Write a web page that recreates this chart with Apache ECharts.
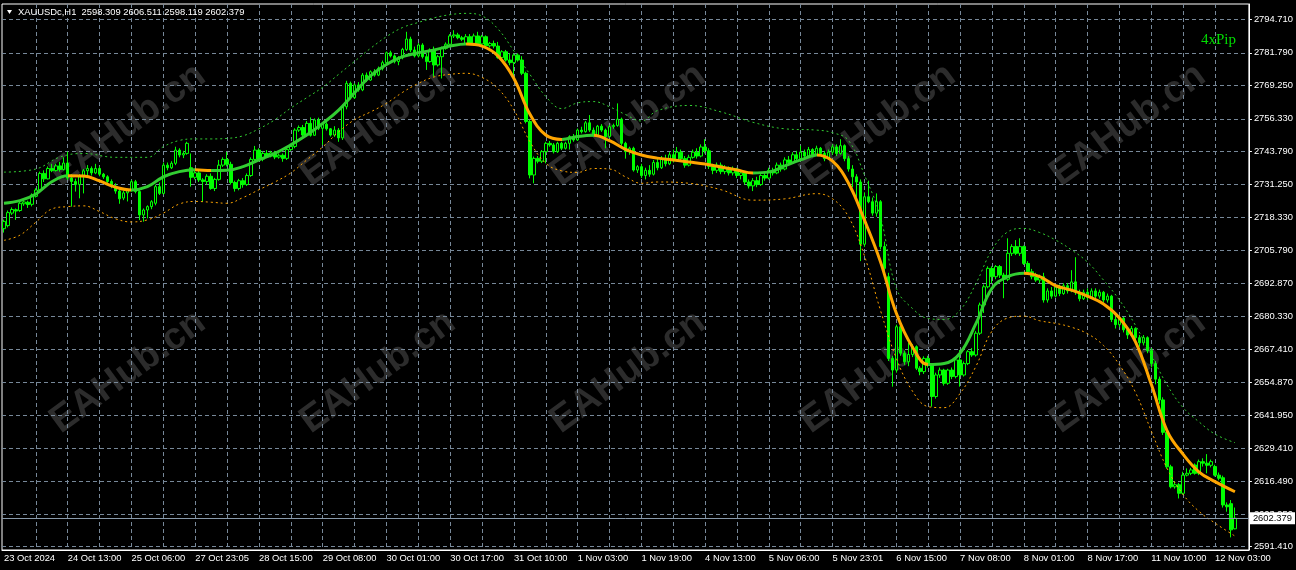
<!DOCTYPE html>
<html>
<head>
<meta charset="utf-8">
<title>XAUUSDc,H1</title>
<script src="https://cdn.jsdelivr.net/npm/echarts@6.0.0/dist/echarts.min.js"></script>
<style>
  html, body { margin: 0; padding: 0; background: #000; }
  #chart { width: 1296px; height: 570px; }
</style>
</head>
<body>
<div id="chart"></div>
<script>
const symbol = 'XAUUSDc,H1'

// every 16th bar gets a time label
const timeLabels = ['23 Oct 2024', '24 Oct 13:00', '25 Oct 06:00', '27 Oct 23:05', '28 Oct 15:00',
  '29 Oct 08:00', '30 Oct 01:00', '30 Oct 17:00', '31 Oct 10:00', '1 Nov 03:00', '1 Nov 19:00',
  '4 Nov 13:00', '5 Nov 06:00', '5 Nov 23:01', '6 Nov 15:00', '7 Nov 08:00', '8 Nov 01:00',
  '8 Nov 17:00', '11 Nov 10:00', '12 Nov 03:00']

const priceTicks = [2591.41, 2603.95, 2616.49, 2629.41, 2641.95, 2654.87, 2667.41, 2680.33, 2692.87,
  2705.79, 2718.33, 2731.25, 2743.79, 2756.33, 2769.25, 2781.79, 2794.71]

// [open, close, low, high]
const candles = [
  [2714.0,2716.8,2712.5,2717.5],[2715.2,2720.2,2714.5,2721.0],[2720.0,2721.4,2719.3,2722.2],[2721.3,2720.8,2717.4,2721.8],
  [2721.0,2723.8,2720.5,2724.6],[2723.6,2724.3,2722.8,2725.0],[2724.2,2723.3,2722.0,2724.8],[2723.4,2727.0,2722.6,2727.6],
  [2726.5,2728.9,2726.0,2729.6],[2728.9,2735.3,2728.5,2736.0],[2735.3,2733.2,2732.0,2736.5],[2733.2,2737.2,2733.0,2738.0],
  [2737.2,2736.4,2735.8,2739.0],[2736.4,2738.2,2736.0,2739.0],[2738.2,2736.8,2736.0,2739.8],[2736.8,2739.3,2736.5,2741.5],
  [2739.3,2733.5,2732.8,2743.7],[2733.5,2732.2,2722.5,2735.0],[2732.2,2731.0,2728.3,2733.3],[2731.0,2734.0,2725.7,2735.0],
  [2734.0,2736.3,2727.6,2737.0],[2736.3,2737.2,2734.5,2738.5],[2737.2,2735.5,2734.5,2738.0],[2735.5,2737.2,2735.0,2739.0],
  [2737.2,2735.0,2734.2,2738.0],[2735.0,2734.0,2733.2,2735.5],[2734.0,2732.2,2731.5,2734.6],[2732.2,2730.5,2729.6,2733.0],
  [2730.5,2728.5,2727.5,2731.5],[2728.5,2725.5,2723.6,2729.5],
  [2725.8,2727.8,2725.0,2728.6],[2727.8,2728.8,2724.5,2729.3],[2728.8,2732.1,2728.3,2732.8],[2732.1,2728.3,2727.6,2732.8],
  [2728.3,2719.3,2717.3,2728.8],[2719.3,2721.2,2716.7,2721.8],[2721.2,2722.5,2718.0,2723.0],[2722.5,2724.4,2721.5,2725.0],
  [2723.8,2730.2,2723.0,2731.0],[2730.2,2727.6,2727.0,2731.8],[2727.6,2738.5,2727.2,2739.5],[2738.5,2737.5,2736.5,2739.5],
  [2737.5,2739.2,2737.0,2740.0],[2739.2,2744.3,2738.5,2745.6],[2744.3,2742.4,2741.5,2745.0],[2742.4,2743.0,2741.2,2744.0],
  [2743.0,2746.9,2742.5,2747.5],[2737.5,2733.8,2730.2,2743.0],[2733.8,2735.5,2733.0,2736.5],[2735.5,2732.8,2732.0,2736.5],
  [2732.8,2732.2,2724.4,2733.5],[2732.2,2734.2,2731.0,2735.0],[2734.2,2729.5,2729.0,2735.3],[2729.5,2733.0,2728.5,2733.6],
  [2733.0,2738.5,2732.5,2740.5],[2738.5,2740.7,2737.8,2741.5],[2740.7,2738.8,2738.0,2743.6],[2738.8,2731.8,2731.0,2739.8],
  [2731.8,2729.5,2728.3,2732.5],[2729.5,2732.5,2728.8,2733.2],[2732.5,2731.0,2729.8,2733.5],[2731.0,2734.5,2730.5,2735.3],
  [2734.5,2740.7,2734.0,2741.5],[2740.7,2744.3,2740.0,2745.9],[2744.3,2740.8,2740.0,2745.0],[2740.8,2743.0,2740.0,2743.8],
  [2743.0,2742.0,2741.3,2744.3],[2742.0,2743.2,2741.5,2744.0],[2743.2,2741.6,2740.8,2744.0],[2741.6,2742.3,2741.0,2743.0],
  [2742.3,2741.1,2739.8,2743.0],[2741.1,2744.5,2740.5,2745.0],[2744.5,2745.7,2744.0,2746.5],[2745.7,2752.0,2745.0,2752.7],
  [2752.0,2753.0,2751.3,2753.8],[2753.0,2750.1,2749.0,2754.0],[2750.1,2754.6,2749.5,2755.5],[2754.6,2750.0,2749.5,2756.9],
  [2750.0,2755.9,2749.8,2756.5],[2755.9,2752.7,2752.0,2756.8],[2752.7,2754.3,2746.3,2755.0],[2754.3,2752.5,2751.8,2755.0],
  [2752.5,2750.1,2749.5,2752.8],[2750.1,2752.0,2749.4,2753.5],[2752.0,2749.0,2747.5,2752.8],[2749.0,2761.0,2748.2,2761.8],
  [2761.0,2770.0,2760.0,2771.0],[2770.0,2764.5,2763.8,2770.7],[2764.5,2769.4,2764.0,2770.0],[2769.4,2767.5,2766.8,2770.5],
  [2767.5,2773.2,2767.0,2774.0],[2773.2,2771.3,2770.5,2774.2],[2771.3,2774.5,2771.0,2775.0],[2774.5,2773.2,2772.6,2775.5],
  [2773.2,2775.8,2772.8,2776.5],[2775.8,2778.0,2775.0,2778.8],[2778.0,2781.8,2777.2,2782.3],[2781.8,2780.6,2780.0,2782.6],
  [2780.6,2778.4,2777.7,2781.2],[2778.4,2779.9,2777.0,2780.5],[2779.9,2783.1,2779.3,2783.7],[2783.1,2787.1,2782.5,2789.9],
  [2787.1,2782.9,2782.0,2788.0],[2782.9,2780.6,2780.0,2784.2],[2780.6,2784.8,2780.0,2785.5],[2784.8,2780.3,2779.6,2785.5],
  [2780.3,2778.4,2775.2,2781.6],[2778.4,2782.9,2778.0,2783.5],[2782.9,2777.1,2772.6,2784.2],[2777.1,2780.3,2776.5,2781.0],
  [2780.3,2783.5,2771.9,2784.2],[2783.5,2785.1,2783.0,2785.8],[2785.1,2788.3,2784.5,2789.0],[2788.3,2788.7,2787.5,2790.5],
  [2788.7,2787.6,2787.0,2789.5],[2787.6,2787.0,2786.3,2788.3],[2785.4,2788.0,2785.0,2789.0],[2788.0,2785.4,2784.8,2789.0],
  [2785.4,2788.3,2784.5,2789.2],[2788.3,2785.2,2784.5,2789.9],[2785.2,2788.0,2784.5,2788.7],[2788.0,2784.5,2783.8,2788.5],
  [2784.5,2785.4,2783.8,2786.0],[2785.4,2784.4,2783.5,2786.5],[2784.4,2780.0,2779.5,2786.0],[2780.0,2782.2,2779.3,2782.8],
  [2782.2,2779.0,2778.4,2782.9],[2779.0,2778.0,2777.0,2781.6],[2778.0,2780.9,2772.0,2781.5],[2780.9,2779.0,2778.4,2781.6],
  [2779.0,2773.9,2773.2,2780.5],[2773.9,2755.3,2754.6,2774.5],[2755.3,2734.7,2733.4,2756.0],[2734.7,2741.1,2731.5,2741.8],
  [2741.1,2740.0,2739.2,2742.0],[2740.0,2743.7,2739.3,2744.3],[2743.7,2746.9,2739.2,2747.5],[2746.9,2746.3,2745.6,2747.8],
  [2746.3,2743.7,2743.0,2747.0],[2743.7,2746.9,2743.2,2747.5],[2746.9,2745.0,2744.3,2747.5],[2745.0,2746.9,2744.5,2747.5],
  [2746.9,2749.5,2744.5,2750.0],[2749.5,2748.2,2747.5,2750.5],[2748.2,2752.0,2747.8,2752.6],[2752.0,2751.4,2750.7,2753.3],
  [2751.4,2754.8,2751.0,2755.5],[2754.8,2752.0,2751.3,2757.8],[2752.0,2750.1,2749.5,2753.0],[2750.1,2753.5,2749.6,2754.0],
  [2753.5,2752.0,2751.3,2754.3],[2752.0,2749.5,2745.0,2752.6],[2749.5,2753.3,2749.0,2754.0],[2753.3,2753.8,2752.5,2754.5],
  [2753.8,2756.2,2753.3,2762.3],[2756.2,2746.9,2746.0,2756.8],[2746.9,2743.7,2741.0,2747.5],[2743.7,2745.0,2742.5,2745.6],
  [2745.0,2736.6,2736.0,2745.6],[2736.6,2737.9,2735.5,2738.5],
  [2737.9,2734.5,2733.5,2739.0],[2734.5,2736.5,2733.0,2737.5],[2736.5,2735.0,2734.0,2738.5],[2735.0,2739.5,2734.5,2740.5],
  [2739.5,2737.5,2736.5,2741.0],[2737.5,2741.0,2737.0,2742.0],[2741.0,2739.0,2738.0,2742.5],[2739.0,2742.5,2738.5,2743.5],
  [2742.5,2740.5,2739.5,2744.5],[2740.5,2743.5,2740.0,2745.5],[2743.5,2741.0,2740.0,2744.5],[2741.0,2738.5,2737.5,2742.0],
  [2738.5,2741.5,2738.0,2742.5],[2741.5,2743.5,2741.0,2744.5],[2743.5,2742.0,2741.0,2745.0],[2742.0,2745.5,2741.5,2746.5],
  [2745.5,2744.0,2743.0,2748.5],[2744.0,2738.0,2737.0,2745.0],[2738.0,2736.5,2735.0,2739.0],[2736.5,2738.5,2735.5,2739.5],
  [2738.5,2736.0,2735.0,2739.5],[2736.0,2737.5,2735.0,2738.5],[2737.5,2735.5,2734.5,2738.0],[2735.5,2737.0,2734.5,2738.0],
  [2737.0,2734.5,2733.5,2737.5],[2734.5,2735.5,2733.0,2736.5],[2735.5,2732.0,2731.0,2736.0],[2732.0,2730.5,2729.5,2733.0],
  [2730.5,2732.5,2728.5,2733.5],[2732.5,2731.0,2730.0,2734.0],[2731.0,2734.5,2730.5,2735.0],[2734.5,2733.5,2732.5,2736.0],
  [2733.5,2736.5,2733.0,2737.5],[2736.5,2735.5,2734.5,2737.5],[2735.5,2738.5,2735.0,2739.5],[2738.5,2737.0,2736.0,2739.5],
  [2737.0,2740.5,2736.5,2741.5],[2740.5,2739.5,2738.5,2742.0],[2739.5,2742.5,2739.0,2743.5],[2742.5,2741.0,2740.0,2744.0],
  [2741.0,2743.5,2740.5,2746.0],[2743.5,2742.0,2741.0,2744.5],[2742.0,2744.5,2741.5,2745.5],[2744.5,2742.5,2741.5,2745.0],
  [2742.5,2745.0,2742.0,2746.0],[2745.0,2743.0,2742.0,2745.5],[2743.0,2741.0,2740.0,2744.0],[2741.0,2743.5,2740.5,2744.5],
  [2743.5,2745.5,2742.5,2746.5],[2745.5,2743.0,2742.0,2746.5],[2743.0,2746.0,2742.5,2748.5],[2746.0,2741.0,2740.0,2746.5],
  [2741.0,2737.0,2736.0,2742.0],[2737.0,2734.0,2730.0,2738.5],[2734.0,2732.0,2726.0,2735.0],
  [2732.0,2708.0,2701.5,2733.0],[2708.0,2726.3,2707.0,2728.0],[2726.3,2724.4,2723.8,2732.5],[2724.4,2720.0,2719.0,2726.0],
  [2720.0,2724.4,2718.6,2727.6],[2724.4,2707.1,2706.0,2725.0],[2707.1,2698.7,2697.0,2709.0],[2695.5,2664.0,2663.0,2697.0],
  [2664.0,2659.5,2653.1,2665.0],[2659.5,2676.2,2658.5,2677.0],[2676.2,2666.0,2665.0,2678.2],[2666.0,2662.7,2661.5,2667.0],
  [2662.7,2665.5,2661.0,2670.0],[2665.5,2668.5,2664.5,2669.5],[2668.5,2660.2,2659.5,2669.0],[2660.2,2658.9,2657.5,2661.0],
  [2658.9,2664.0,2658.0,2664.8],[2664.0,2661.5,2660.5,2665.0],[2661.5,2649.3,2645.4,2662.0],[2649.3,2657.6,2648.5,2658.5],
  [2657.6,2659.5,2656.5,2660.5],[2659.5,2654.4,2653.5,2660.0],[2654.4,2659.5,2653.8,2660.0],[2659.5,2657.0,2656.0,2660.5],
  [2657.0,2663.4,2656.3,2664.0],[2663.4,2657.6,2653.1,2667.2],[2657.6,2662.0,2657.0,2662.8],[2662.0,2666.6,2661.4,2667.2],
  [2666.6,2665.3,2664.6,2668.0],[2665.3,2673.7,2664.7,2674.5],[2673.7,2684.6,2673.0,2685.5],[2684.6,2691.6,2681.5,2692.5],
  [2691.6,2698.7,2691.0,2699.5],[2698.7,2695.5,2693.0,2699.5],[2695.5,2699.4,2694.5,2700.0],[2699.4,2696.1,2695.0,2700.0],
  [2696.1,2694.5,2687.2,2697.0],[2694.5,2704.5,2693.8,2710.3],[2704.5,2707.1,2703.5,2708.0],[2707.1,2704.5,2703.8,2709.6],
  [2704.5,2707.1,2703.5,2710.3],[2707.1,2700.6,2700.0,2707.5],[2700.6,2697.4,2696.8,2701.5],[2697.4,2695.5,2694.5,2698.5],
  [2695.5,2694.2,2693.5,2697.0],[2694.2,2695.5,2693.0,2696.3],[2695.5,2686.5,2685.5,2697.0],
  [2686.5,2690.0,2685.5,2691.0],[2690.0,2688.0,2687.0,2691.5],[2688.0,2691.5,2687.5,2692.5],[2691.5,2689.0,2688.0,2692.5],
  [2689.0,2692.0,2688.5,2693.0],[2692.0,2690.0,2689.0,2693.0],[2690.0,2693.5,2689.5,2698.0],[2693.5,2689.5,2688.5,2703.0],
  [2689.5,2687.0,2686.0,2690.5],[2687.0,2689.5,2686.5,2690.5],[2689.5,2687.5,2686.5,2691.0],[2687.5,2690.0,2687.0,2691.0],
  [2690.0,2688.0,2687.0,2691.0],[2688.0,2689.5,2687.0,2690.5],[2689.5,2686.5,2685.5,2690.0],[2686.5,2688.0,2685.5,2689.0],
  [2688.0,2679.0,2678.0,2688.5],[2679.0,2677.0,2675.5,2680.5],[2677.0,2679.5,2676.0,2680.5],[2679.5,2675.0,2674.0,2680.0],
  [2675.0,2673.0,2671.5,2676.0],[2673.0,2675.5,2672.5,2676.5],[2675.5,2672.0,2671.0,2676.0],[2672.0,2670.0,2668.5,2673.0],
  [2670.0,2672.0,2669.0,2673.0],[2672.0,2667.0,2666.0,2672.5],[2667.0,2662.0,2660.5,2668.0],[2662.0,2656.0,2654.0,2663.0],
  [2656.0,2648.0,2646.5,2657.0],[2648.0,2635.5,2634.5,2649.0],
  [2635.5,2622.2,2621.5,2636.0],[2622.2,2614.5,2613.9,2623.0],[2614.5,2615.3,2613.8,2616.5],[2615.3,2612.0,2610.0,2616.0],
  [2612.0,2619.0,2611.5,2620.3],[2619.0,2619.7,2618.5,2621.6],[2619.7,2621.0,2619.0,2621.8],[2622.9,2619.7,2619.2,2623.5],
  [2619.7,2624.2,2619.0,2625.0],[2624.2,2623.6,2622.3,2625.5],[2623.6,2622.8,2619.7,2627.1],[2622.8,2624.2,2622.0,2625.0],
  [2622.3,2619.0,2618.5,2623.0],[2619.0,2617.8,2617.0,2620.0],[2618.0,2607.5,2606.5,2618.8],[2607.5,2606.8,2604.9,2608.5],
  [2608.0,2597.9,2595.0,2609.4],[2598.309,2602.379,2598.119,2606.511]
]

// moving average read every few bars: [bar index, price]
const maPts = [[0,2723.8],[4,2724.8],[8,2727.4],[12,2732.1],[16,2734.4],[20,2734.3],[24,2732.4],[28,2730.0],
  [32,2728.9],[36,2730.2],[40,2734.0],[44,2736.0],[48,2736.7],[52,2736.4],[56,2736.5],[60,2737.9],[64,2740.5],
  [68,2743.0],[72,2746.3],[76,2750.1],[80,2754.6],[84,2759.7],[88,2766.4],[92,2772.9],[96,2777.3],[100,2780.3],
  [104,2781.8],[108,2782.9],[112,2784.4],[116,2785.2],[120,2784.4],[124,2780.6],[128,2771.9],[132,2758.2],
  [136,2750.1],[140,2748.4],[144,2749.5],[148,2750.0],[152,2747.9],[156,2744.6],[160,2742.4],[164,2741.2],
  [168,2740.5],[172,2739.7],[176,2738.9],[180,2737.8],[184,2736.6],[188,2735.5],[192,2735.8],[196,2738.2],
  [200,2740.5],[204,2742.4],[208,2740.0],[212,2731.5],[216,2717.3],[220,2701.3],[224,2681.4],[228,2668.5],
  [232,2661.6],[236,2662.0],[240,2666.0],[244,2677.5],[248,2691.0],[252,2695.5],[256,2696.8],[260,2695.5],
  [264,2692.0],[268,2690.3],[272,2688.0],[276,2685.0],[280,2679.6],[284,2670.5],[288,2654.0],[292,2636.0],
  [296,2627.0],[300,2620.2],[304,2616.5],[309,2612.6]]

const upperBand = [[0,2735.8],[8,2737.0],[14,2741.6],[20,2743.0],[28,2741.5],[36,2741.5],[40,2745.6],[44,2748.0],
  [48,2748.6],[52,2748.6],[56,2748.8],[60,2749.8],[64,2752.5],[68,2756.0],[72,2760.5],[76,2764.5],[80,2768.5],
  [84,2773.5],[88,2778.5],[92,2783.5],[96,2788.0],[100,2791.5],[104,2793.5],[108,2795.3],[112,2796.5],[116,2797.0],
  [120,2796.0],[124,2791.0],[128,2782.5],[132,2773.5],[136,2765.0],[140,2760.3],[144,2762.5],[148,2763.0],
  [152,2761.0],[156,2758.0],[160,2755.5],[164,2759.5],[172,2761.5],[180,2759.0],[188,2755.0],[196,2752.5],
  [204,2752.0],[208,2751.0],[212,2748.0],[216,2734.7],[220,2718.6],[224,2691.0],[228,2683.3],[232,2679.4],
  [236,2679.0],[240,2682.6],[244,2692.9],[248,2705.8],[252,2712.8],[256,2714.1],[260,2712.5],[264,2709.6],
  [268,2705.8],[272,2701.1],[276,2694.2],[280,2686.5],[284,2676.8],[288,2665.3],[292,2653.7],[296,2645.0],
  [300,2639.5],[304,2634.8],[309,2631.5]]

const lowerBand = [[0,2709.5],[4,2711.5],[8,2716.5],[12,2721.6],[16,2722.5],[20,2722.8],[24,2720.6],[28,2717.8],
  [32,2716.6],[36,2717.4],[40,2720.0],[44,2723.5],[48,2724.5],[52,2724.2],[56,2723.8],[60,2726.0],[64,2729.0],
  [68,2732.0],[72,2735.5],[76,2740.5],[80,2745.5],[84,2751.3],[88,2756.0],[92,2759.0],[96,2762.3],[100,2766.5],
  [104,2770.0],[108,2772.5],[112,2773.5],[116,2773.9],[120,2772.3],[124,2768.0],[128,2759.8],[132,2747.6],
  [136,2739.2],[140,2736.3],[144,2735.7],[148,2737.2],[152,2737.0],[156,2734.0],[160,2731.5],[164,2732.0],
  [172,2731.5],[180,2729.0],[188,2725.0],[196,2725.5],[204,2727.5],[208,2725.5],[212,2718.6],[216,2703.5],
  [220,2682.6],[224,2664.0],[228,2651.5],[232,2645.4],[236,2645.0],[240,2650.5],[244,2661.0],[248,2674.5],
  [252,2679.6],[256,2680.3],[260,2678.5],[264,2677.5],[268,2676.0],[272,2673.5],[276,2669.0],[280,2661.5],
  [284,2651.0],[288,2636.0],[292,2621.5],[296,2611.5],[300,2605.0],[304,2600.5],[309,2595.5]]

const UP = '#32cd32'
const DOWN = '#ffa500'
const GRID = '#778899'
const FONT = '"Liberation Sans", Arial, sans-serif'

// three empty slots after the last bar, like the terminal's right margin
const cats = []
for (let i = 0; i < candles.length + 3; i++) cats.push(String(i))

const maPieces = []
for (let k = 0; k < maPts.length - 1; k++) {
  const rising = maPts[k + 1][1] >= maPts[k][1]
  const piece = { gte: maPts[k][0], color: rising ? UP : DOWN }
  if (k < maPts.length - 2) piece.lt = maPts[k + 1][0]
  else piece.lte = maPts[k + 1][0]
  maPieces.push(piece)
}

const last = candles[candles.length - 1]
const header = `${symbol}  ${last[0].toFixed(3)} ${last[3].toFixed(3)} ${last[2].toFixed(3)} ${last[1].toFixed(3)}`

const graphics = []
for (const cy of [125, 372]) {
  for (const cx of [128, 378, 628, 878, 1128]) {
    graphics.push({
      type: 'text', x: cx, y: cy, rotation: 0.63, z: 0, silent: true,
      style: { text: 'EAHub.cn', fill: '#2c2c2c', font: 'bold 38px ' + FONT, align: 'center', verticalAlign: 'middle' }
    })
  }
}
graphics.push({ type: 'polygon', z: 10, shape: { points: [[7, 10], [12, 10], [9.5, 14]] }, style: { fill: '#fff' } })
graphics.push({ type: 'text', x: 18, y: 12, z: 10, style: { text: header, fill: '#fff', font: '9.4px ' + FONT, verticalAlign: 'middle' } })
graphics.push({ type: 'text', x: 1201, y: 40, z: 10, style: { text: '4xPip', fill: '#00dd00', font: '15px "Liberation Serif", serif', verticalAlign: 'middle' } })

const chart = echarts.init(document.getElementById('chart'))
chart.setOption({
  animation: false,
  backgroundColor: '#000',
  grid: { left: 2, right: 44, top: 4, bottom: 20, show: true, borderColor: '#fff', borderWidth: 1 },
  xAxis: {
    type: 'category',
    data: cats,
    boundaryGap: true,
    z: 1,
    axisLine: { lineStyle: { color: '#fff' } },
    axisTick: {
      alignWithLabel: true, length: 4, lineStyle: { color: '#fff' },
      interval: (i) => i % 16 === 0 && i < candles.length
    },
    axisLabel: {
      color: '#fff', fontSize: 9.4, fontFamily: FONT, align: 'left', margin: 4,
      interval: (i) => i % 16 === 0 && i < candles.length,
      formatter: (v, i) => timeLabels[i / 16] || ''
    },
    splitLine: {
      show: true, alignWithLabel: true,
      interval: (i) => i > 0 && i % 8 === 0 && i < candles.length,
      lineStyle: { color: GRID, type: [4, 3], width: 1 }
    }
  },
  yAxis: {
    type: 'value',
    position: 'right',
    min: 2590.14,
    max: 2800.61,
    z: 1,
    axisLine: { show: true, lineStyle: { color: '#fff' } },
    axisTick: { show: true, length: 3, lineStyle: { color: '#fff' }, customValues: priceTicks },
    axisLabel: {
      color: '#fff', fontSize: 9.4, fontFamily: FONT, margin: 5,
      customValues: priceTicks,
      formatter: (v) => v.toFixed(3)
    },
    splitLine: { show: true, lineStyle: { color: GRID, type: [4, 3], width: 1 } }
  },
  visualMap: {
    show: false,
    type: 'piecewise',
    seriesIndex: 1,
    dimension: 0,
    pieces: maPieces,
    outOfRange: { color: DOWN }
  },
  graphic: graphics,
  series: [
    {
      type: 'candlestick',
      data: candles,
      barWidth: 3,
      z: 2,
      itemStyle: {
        color: '#000', color0: '#00ff00',
        borderColor: '#00ff00', borderColor0: '#00ff00', borderColorDoji: '#00ff00',
        borderWidth: 1
      },
      markLine: {
        symbol: 'none',
        silent: true,
        data: [{ yAxis: last[1] }],
        lineStyle: { color: '#8899aa', type: 'solid', width: 1 },
        label: {
          position: 'end', distance: 1,
          formatter: () => last[1].toFixed(3),
          color: '#000', backgroundColor: '#fff',
          fontSize: 9.4, fontFamily: FONT, padding: [2, 3, 1, 3]
        }
      }
    },
    {
      type: 'line', data: maPts, smooth: 0.4, showSymbol: false, z: 4,
      lineStyle: { width: 3 }
    },
    {
      type: 'line', data: upperBand, smooth: 0.4, showSymbol: false, z: 3,
      lineStyle: { width: 1, color: UP, type: [2, 3] }
    },
    {
      type: 'line', data: lowerBand, smooth: 0.4, showSymbol: false, z: 3,
      lineStyle: { width: 1, color: DOWN, type: [2, 3] }
    }
  ]
})
</script>
</body>
</html>
